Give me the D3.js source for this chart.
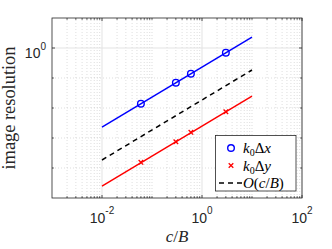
<!DOCTYPE html>
<html>
<head>
<meta charset="utf-8">
<script src="https://cdn.jsdelivr.net/npm/d3@7"></script>
<style>
  body { margin: 0; background: #fff; }
  svg { display: block; }
</style>
</head>
<body>
<div id="chart"></div>
<script>
// measured points (c/B vs resolution)
const cbPts = [0.06, 0.3, 0.6, 3];
const dxPts = [0.0139, 0.0697, 0.139, 0.697];
const dyPts = [1.55e-4, 7.5e-4, 1.55e-3, 7.5e-3];

// fitted lines, evaluated at the ends of the range
const fitX = [0.01, 10];
const dxFit = [0.00232, 2.32];
const dyFit = [2.5e-5, 0.025];
const refFit = [1.85e-4, 0.185];

// tick labels (exponents of 10)
const xTickVals = [1e-2, 1, 1e2];
const xTickExp = ["-2", "0", "2"];
const yTickVals = [1];
const yTickExp = ["0"];

const W = 332, H = 249;
const margin = {top: 18, right: 30, bottom: 51, left: 52};

const svg = d3.select('#chart').append('svg')
    .attr('width', W)
    .attr('height', H);

const x = d3.scaleLog().domain([1e-3, 1e2]).range([margin.left, W - margin.right]);
const y = d3.scaleLog().domain([1e-5, 10]).range([H - margin.bottom, margin.top]);

const x0 = x.range()[0], x1 = x.range()[1];
const y0 = y.range()[0], y1 = y.range()[1];

// minor tick positions
const xMinor = [];
for (let k = -3; k <= 1; k++) {
    for (let m = 1; m <= 9; m++) {
        const v = m * Math.pow(10, k);
        if (v <= 1e-3 || v >= 1e2) continue;
        if (xTickVals.some(t => Math.abs(t - v) / t < 1e-9)) continue;
        xMinor.push(v);
    }
}
const yMinor = [1e-4, 1e-3, 1e-2, 1e-1];

// grid
const grid = svg.append('g');
grid.selectAll('.gx-minor').data(xMinor).enter().append('line')
    .attr('x1', d => x(d)).attr('x2', d => x(d))
    .attr('y1', y0).attr('y2', y1)
    .attr('stroke', '#c8c8c8').attr('stroke-width', 0.6)
    .attr('stroke-dasharray', '1,2');
grid.selectAll('.gy-minor').data(yMinor).enter().append('line')
    .attr('x1', x0).attr('x2', x1)
    .attr('y1', d => y(d)).attr('y2', d => y(d))
    .attr('stroke', '#c8c8c8').attr('stroke-width', 0.6)
    .attr('stroke-dasharray', '1,2');
grid.selectAll('.gx').data(xTickVals).enter().append('line')
    .attr('x1', d => x(d)).attr('x2', d => x(d))
    .attr('y1', y0).attr('y2', y1)
    .attr('stroke', '#e3e3e3').attr('stroke-width', 1);
grid.selectAll('.gy').data(yTickVals).enter().append('line')
    .attr('x1', x0).attr('x2', x1)
    .attr('y1', d => y(d)).attr('y2', d => y(d))
    .attr('stroke', '#e3e3e3').attr('stroke-width', 1);

// ticks (inward, on all four sides)
const ticks = svg.append('g').attr('stroke', '#262626').attr('stroke-width', 0.8);
function xTick(v, len) {
    ticks.append('line').attr('x1', x(v)).attr('x2', x(v)).attr('y1', y0).attr('y2', y0 - len);
    ticks.append('line').attr('x1', x(v)).attr('x2', x(v)).attr('y1', y1).attr('y2', y1 + len);
}
function yTick(v, len) {
    ticks.append('line').attr('x1', x0).attr('x2', x0 + len).attr('y1', y(v)).attr('y2', y(v));
    ticks.append('line').attr('x1', x1).attr('x2', x1 - len).attr('y1', y(v)).attr('y2', y(v));
}
xMinor.forEach(v => xTick(v, 1.8));
xTickVals.forEach(v => xTick(v, 3));
yMinor.forEach(v => yTick(v, 1.8));
yTickVals.forEach(v => yTick(v, 3));

// fit lines
const line = d3.line().x(d => x(d[0])).y(d => y(d[1]));
svg.append('path').datum(d3.zip(fitX, dxFit)).attr('d', line)
    .attr('fill', 'none').attr('stroke', '#0000ff').attr('stroke-width', 1.5);
svg.append('path').datum(d3.zip(fitX, refFit)).attr('d', line)
    .attr('fill', 'none').attr('stroke', '#000').attr('stroke-width', 1.5)
    .attr('stroke-dasharray', '5,4');
svg.append('path').datum(d3.zip(fitX, dyFit)).attr('d', line)
    .attr('fill', 'none').attr('stroke', '#ff0000').attr('stroke-width', 1.5);

// markers
svg.selectAll('.circ').data(d3.zip(cbPts, dxPts)).enter().append('circle')
    .attr('cx', d => x(d[0])).attr('cy', d => y(d[1])).attr('r', 3.3)
    .attr('fill', 'none').attr('stroke', '#0000ff').attr('stroke-width', 1.4);

function cross(g, cx, cy, s) {
    g.append('path')
        .attr('d', `M${cx - s},${cy - s}L${cx + s},${cy + s}M${cx - s},${cy + s}L${cx + s},${cy - s}`)
        .attr('stroke', '#ff0000').attr('stroke-width', 1.3).attr('fill', 'none');
}
d3.zip(cbPts, dyPts).forEach(d => cross(svg, x(d[0]), y(d[1]), 2.3));

// axes box
svg.append('rect')
    .attr('x', x0).attr('y', y1)
    .attr('width', x1 - x0).attr('height', y0 - y1)
    .attr('fill', 'none').attr('stroke', '#262626').attr('stroke-width', 0.8);

// tick labels
const sans = 'Helvetica, Arial, "Liberation Sans", sans-serif';
xTickVals.forEach((v, i) => {
    const t = svg.append('text')
        .attr('x', x(v)).attr('y', 222.7)
        .attr('text-anchor', 'middle')
        .attr('font-family', sans).attr('font-size', 14).attr('fill', '#262626');
    t.append('tspan').text('10');
    t.append('tspan').attr('dy', -9).attr('font-size', 10).text(xTickExp[i]);
});
yTickVals.forEach((v, i) => {
    const t = svg.append('text')
        .attr('x', 46).attr('y', y(v) + 10.3)
        .attr('text-anchor', 'end')
        .attr('font-family', sans).attr('font-size', 14).attr('fill', '#262626');
    t.append('tspan').text('10');
    t.append('tspan').attr('dy', -8).attr('font-size', 10).text(yTickExp[i]);
});

// axis labels
const serif = '"Liberation Serif", "Times New Roman", serif';
svg.append('text')
    .attr('transform', `translate(15,${(y0 + y1) / 2}) rotate(-90)`)
    .attr('text-anchor', 'middle')
    .attr('font-family', serif).attr('font-size', 18.5).attr('fill', '#262626')
    .attr('textLength', 123).attr('lengthAdjust', 'spacing')
    .text('image resolution');

const xl = svg.append('text')
    .attr('x', (x0 + x1) / 2).attr('y', 241.5)
    .attr('text-anchor', 'middle')
    .attr('font-family', serif).attr('font-size', 17).attr('fill', '#262626');
xl.append('tspan').attr('font-style', 'italic').text('c');
xl.append('tspan').text('/');
xl.append('tspan').attr('font-style', 'italic').text('B');

// legend
const lg = svg.append('g');
lg.append('rect')
    .attr('x', 215.5).attr('y', 135.5).attr('width', 80.5).attr('height', 55.5)
    .attr('fill', '#fff').attr('stroke', '#262626').attr('stroke-width', 0.8);
const rows = [148, 165.5, 183];
const mx = 231, tx = 243;

lg.append('circle').attr('cx', mx).attr('cy', rows[0]).attr('r', 3.3)
    .attr('fill', 'none').attr('stroke', '#0000ff').attr('stroke-width', 1.4);
cross(lg, mx, rows[1], 2.3);
lg.append('line').attr('x1', 219).attr('x2', 243).attr('y1', rows[2]).attr('y2', rows[2])
    .attr('stroke', '#000').attr('stroke-width', 1.5).attr('stroke-dasharray', '5,4');

function mathLabel(yy, parts, len) {
    const t = lg.append('text').attr('x', tx).attr('y', yy + 5)
        .attr('font-family', serif).attr('font-size', 15).attr('fill', '#000');
    parts.forEach(p => {
        const s = t.append('tspan').text(p.t);
        if (p.i) s.attr('font-style', 'italic');
        if (p.sub) s.attr('font-size', 10).attr('dy', 3);
        if (p.up) s.attr('dy', -3);
    });
}
mathLabel(rows[0], [{t: 'k', i: true}, {t: '0', sub: true}, {t: 'Δ', up: true}, {t: 'x', i: true}]);
mathLabel(rows[1], [{t: 'k', i: true}, {t: '0', sub: true}, {t: 'Δ', up: true}, {t: 'y', i: true}]);
mathLabel(rows[2], [{t: 'O', i: true}, {t: '('}, {t: 'c', i: true}, {t: '/'}, {t: 'B', i: true}, {t: ')'}]);
</script>
</body>
</html>
